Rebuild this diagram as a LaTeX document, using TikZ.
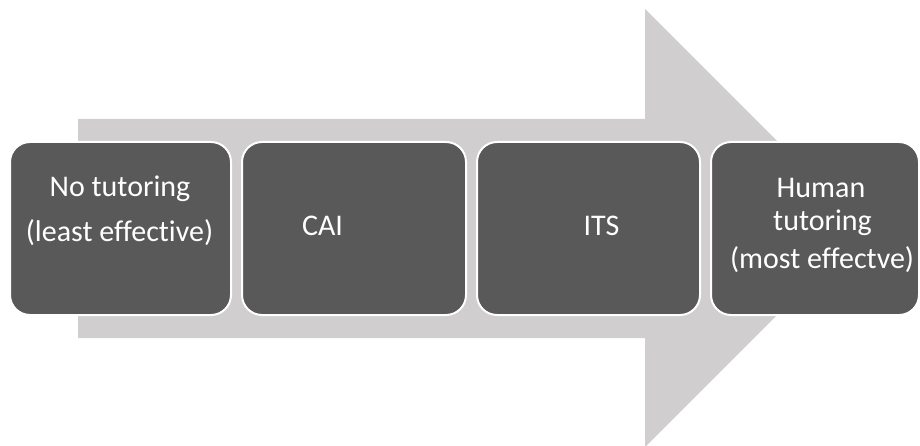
\documentclass[tikz,border=0pt]{standalone}
\usepackage{fontspec}
\setmainfont{Carlito}[Ligatures=NoCommon]
\definecolor{arrowgray}{HTML}{D0CECE}
\definecolor{boxgray}{HTML}{595959}
\begin{document}
\begin{tikzpicture}[x=1pt,y=-1pt,
  stagebox/.style={fill=boxgray,draw=white,line width=2pt,rounded corners=20pt},
  stagetext/.style={text=white,anchor=base,inner sep=0pt,
    font=\fontsize{30}{36}\selectfont}]
\useasboundingbox (0,0) rectangle (920,446);
% big background arrow
\fill[arrowgray] (78,119) -- (645,119) -- (645,9) -- (864,228)
  -- (645,447) -- (645,338) -- (78,338) -- cycle;
% stage boxes
\path[stagebox] (10,142) rectangle (231,315);
\path[stagebox] (242,142) rectangle (466,315);
\path[stagebox] (477,142) rectangle (700,315);
\path[stagebox] (711,142) rectangle (919,315);
% labels
\node[stagetext] (t1a) at (120,197) {No tutoring};
\node[stagetext] (t1b) at (119.5,242) {(least effective)};
\node[stagetext] (t2) at (322.5,236) {CAI};
\node[stagetext] (t3) at (601.5,236) {ITS};
\node[stagetext] (t4a) at (821,198) {Human};
\node[stagetext] (t4b) at (822.5,231) {tutoring};
\node[stagetext] (t4c) at (822,269) {(most effectve)};
\end{tikzpicture}
\end{document}
